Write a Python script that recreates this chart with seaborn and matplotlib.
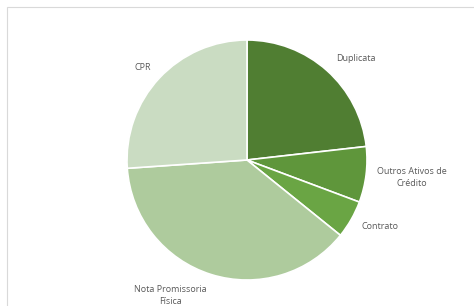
import numpy as np
import matplotlib.pyplot as plt
import seaborn as sns
from matplotlib.patches import Rectangle

categories = ["Duplicata", "Outros Ativos de\nCrédito", "Contrato",
              "Nota Promissoria\nFísica", "CPR"]
shares = [23.2, 7.5, 5.1, 38.1, 26.1]
colors = ["#507E32", "#5F963B", "#6AA544", "#AECB9D", "#CADCC2"]

sns.set_theme(style="white")
plt.rcParams['font.family'] = ['Open Sans', 'DejaVu Sans']

fig = plt.figure(figsize=(4.74, 3.06), dpi=100)
ax = fig.add_axes([127 / 474, 26 / 306, 240 / 474, 240 / 306])

wedges, texts = ax.pie(shares, labels=categories, colors=colors,
                       startangle=90, counterclock=False,
                       wedgeprops=dict(edgecolor="white", linewidth=1.2),
                       textprops=dict(color="#595959", fontsize=6.5,
                                      linespacing=1.45))
ax.set_xlim(-1, 1)
ax.set_ylim(-1, 1)
ax.set_aspect("equal")

# nudge labels to where excel put them
dists = [1.24, 1.38, 1.24, 1.30, 1.16]
nudges = [-5, 1, 3, -12, 1.5]
for w, t, d, n in zip(wedges, texts, dists, nudges):
    ang = np.deg2rad((w.theta1 + w.theta2) / 2 + n)
    t.set_position((d * np.cos(ang), d * np.sin(ang)))
    t.set_ha("center")
    t.set_va("center")
    t.set_multialignment("center")

fig.patches.append(Rectangle((7 / 474, -0.1), 1.2, (299 / 306) + 0.1,
                             transform=fig.transFigure, fill=False,
                             edgecolor="#D9D9D9", linewidth=0.8))

plt.savefig("out.png", dpi=100)
